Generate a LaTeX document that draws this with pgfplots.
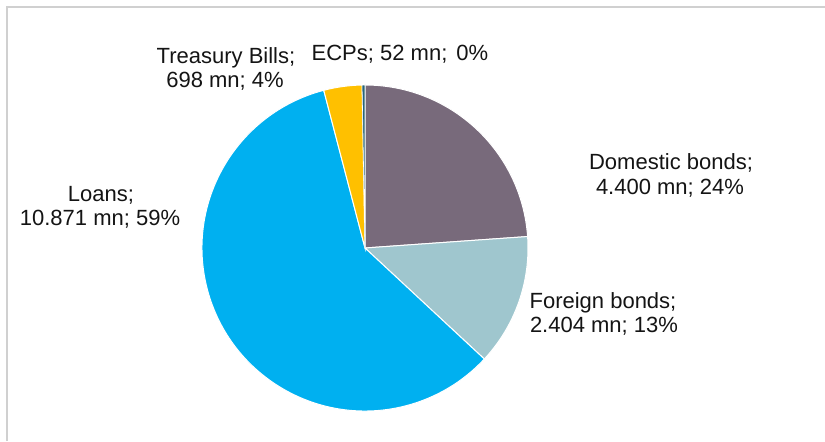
\documentclass[border=0pt]{standalone}
\usepackage{pgfplots}
\pgfplotsset{compat=1.18}
\usepackage{pgfplotstable}
\usepackage{fontspec}
\setmainfont{Liberation Sans}
\definecolor{domcol}{RGB}{120,106,123}
\definecolor{forcol}{RGB}{159,198,206}
\definecolor{loancol}{RGB}{0,176,240}
\definecolor{tbcol}{RGB}{255,192,0}
\definecolor{ecpcol}{RGB}{40,100,120}
\definecolor{framecol}{RGB}{208,208,208}
\definecolor{txtcol}{RGB}{20,20,20}

\pgfplotstableread{
label value
Domestic 4400
Foreign 2404
Loans 10871
Treasury 698
ECPs 52
}\piedata

\newcommand\getval[2]{\pgfplotstablegetelem{#1}{value}\of\piedata\global\let#2\pgfplotsretval}

\begin{document}
\begin{tikzpicture}
\getval{0}\vA
\getval{1}\vB
\getval{2}\vC
\getval{3}\vD
\getval{4}\vE
\pgfmathsetmacro\tot{\vA/1000+\vB/1000+\vC/1000+\vD/1000+\vE/1000}
\pgfmathsetmacro\aA{90}
\pgfmathsetmacro\aB{\aA-\vA/1000/\tot*360}
\pgfmathsetmacro\aC{\aB-\vB/1000/\tot*360}
\pgfmathsetmacro\aD{\aC-\vC/1000/\tot*360}
\pgfmathsetmacro\aE{\aD-\vD/1000/\tot*360}
\pgfmathsetmacro\aF{-270}
\begin{axis}[at={(0,0)}, anchor=south west,
  width=412.5pt, height=220.5pt, scale only axis,
  xmin=0, xmax=825, ymin=0, ymax=441,
  hide axis, clip=false]
% frame
\draw[framecol, line width=1pt] (axis cs:7,0) -- (axis cs:7,434) -- (axis cs:825,434);
% slices
\fill[domcol, draw=white, line width=0.5pt] (axis cs:365,193) -- ([shift={(\aB:81.5pt)}]axis cs:365,193) arc[start angle=\aB, end angle=\aA, radius=81.5pt] -- cycle;
\fill[forcol, draw=white, line width=0.5pt] (axis cs:365,193) -- ([shift={(\aC:81.5pt)}]axis cs:365,193) arc[start angle=\aC, end angle=\aB, radius=81.5pt] -- cycle;
\fill[loancol, draw=white, line width=0.5pt] (axis cs:365,193) -- ([shift={(\aD:81.5pt)}]axis cs:365,193) arc[start angle=\aD, end angle=\aC, radius=81.5pt] -- cycle;
\fill[tbcol, draw=white, line width=0.5pt] (axis cs:365,193) -- ([shift={(\aE:81.5pt)}]axis cs:365,193) arc[start angle=\aE, end angle=\aD, radius=81.5pt] -- cycle;
\fill[ecpcol, draw=white, line width=0.3pt] (axis cs:365,193) -- ([shift={(\aF:81.5pt)}]axis cs:365,193) arc[start angle=\aF, end angle=\aE, radius=81.5pt] -- cycle;
% labels
\begin{scope}[every node/.style={anchor=base, inner sep=0pt, font=\fontsize{11}{12}\selectfont, text=txtcol}]
\node at (axis cs:226,377) {Treasury Bills;};
\node at (axis cs:225,353) {698 mn; 4\%};
\node at (axis cs:400,380) {ECPs; 52 mn;\ \kern1.5pt0\%};
\node at (axis cs:671,271) {Domestic bonds;};
\node at (axis cs:670,246.5) {4.400 mn; 24\%};
\node at (axis cs:603,133) {Foreign bonds;};
\node at (axis cs:604,108.5) {2.404 mn; 13\%};
\node at (axis cs:101,239.5) {Loans;};
\node at (axis cs:100,215) {10.871 mn; 59\%};
\end{scope}
\end{axis}
\pgfresetboundingbox
\path (0,0) rectangle (412.5pt,220.5pt);
\end{tikzpicture}
\end{document}
